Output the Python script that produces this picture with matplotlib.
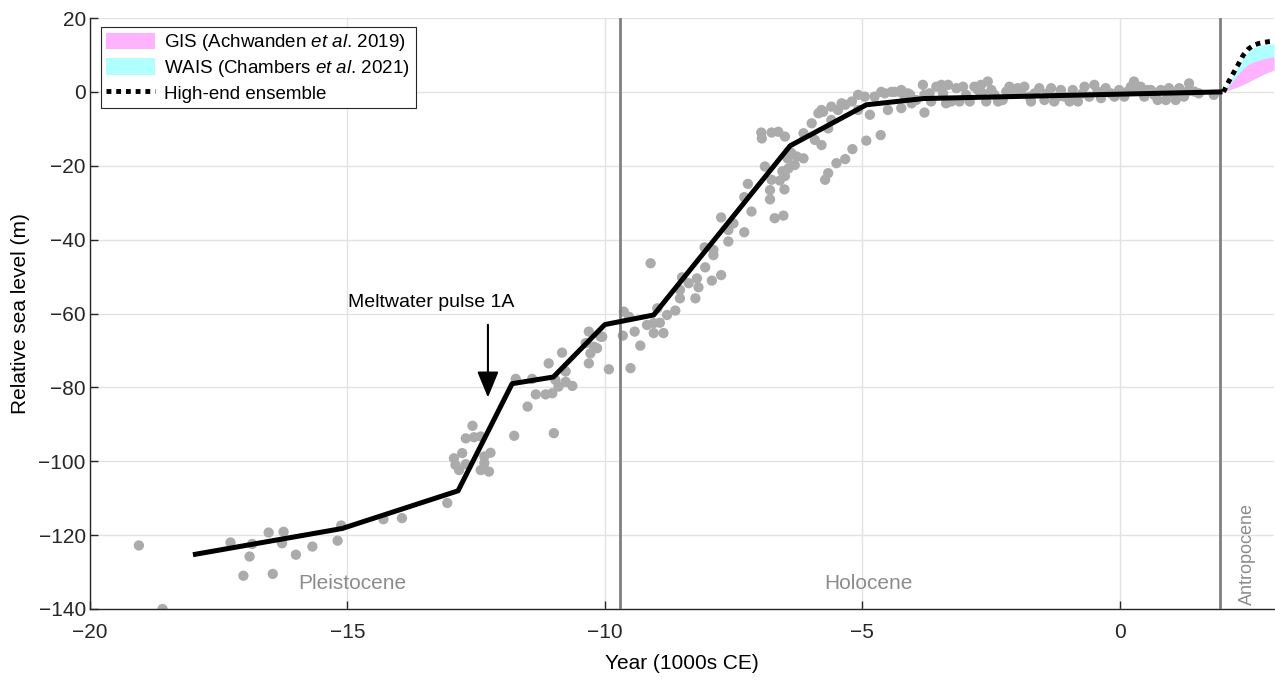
import matplotlib
matplotlib.use("Agg")
import matplotlib.pyplot as plt
from matplotlib.patches import Patch
from matplotlib.lines import Line2D

plt.rcParams['font.family'] = ['Liberation Sans', 'DejaVu Sans']
plt.rcParams['mathtext.fontset'] = 'custom'
plt.rcParams['mathtext.rm'] = 'Liberation Sans'
plt.rcParams['mathtext.it'] = 'Liberation Sans:italic'

# Sea-level index points: age (kyr CE) and relative sea level (m)
pleist_age = [-19.05, -18.59, -17.27, -16.85, -16.90, -17.02, -16.53, -16.24, -16.27,
              -16.00, -16.45, -15.68, -15.19, -15.12, -14.30, -13.94, -13.06]
pleist_rsl = [-122.8, -140.0, -122.0, -122.4, -125.8, -131.0, -119.3, -119.1, -122.2,
              -125.3, -130.5, -123.1, -121.5, -117.4, -115.7, -115.4, -111.3]

mwp_age = [-12.57, -12.70, -12.54, -12.41, -12.93, -12.90, -12.77, -12.83, -12.41,
           -12.25, -12.34, -12.22, -12.34, -12.70,
           -11.73, -11.76, -11.50, -11.34, -11.41, -11.15, -11.02, -10.99, -11.09,
           -10.96, -10.83, -10.76, -10.90, -10.76, -10.63, -10.37, -10.31, -10.21,
           -10.15, -10.31, -10.28, -10.08, -9.92, -10.05]
mwp_rsl = [-90.4, -93.8, -93.5, -93.3, -99.2, -101.0, -97.8, -102.4, -102.4,
           -102.8, -100.5, -97.7, -98.7, -100.8,
           -77.7, -93.1, -85.2, -81.9, -77.7, -81.9, -81.6, -92.4, -73.5,
           -78.0, -70.6, -75.7, -79.8, -78.5, -79.6, -68.0, -64.9, -69.0,
           -69.4, -73.5, -70.8, -66.3, -75.1, -66.3]

early_age = [-9.63, -9.53, -9.65, -9.42, -9.31, -9.50, -9.11, -9.18, -9.05, -8.93,
             -9.05, -8.86, -8.79, -8.63, -8.98, -8.54, -8.24, -8.54, -8.37, -8.50,
             -8.21, -8.18, -8.05, -7.92, -7.74, -8.06, -7.89, -7.89, -7.74, -7.60,
             -7.60, -7.50, -7.29, -7.29, -7.22, -7.15, -6.79, -6.79, -6.76, -6.70,
             -6.53, -6.51, -6.50]
early_rsl = [-59.5, -60.9, -66.0, -64.9, -68.7, -74.8, -46.4, -63.1, -62.6, -62.5,
             -65.3, -65.3, -60.4, -59.2, -58.6, -55.9, -55.9, -53.6, -51.8, -50.2,
             -50.5, -52.9, -47.5, -51.1, -49.6, -42.1, -44.2, -42.8, -34.0, -40.5,
             -37.4, -35.6, -38.0, -28.5, -24.9, -32.4, -29.1, -26.6, -23.8, -34.2,
             -33.5, -26.4, -22.8]

mid_age = [-6.96, -6.95, -6.76, -6.63, -6.50, -6.89, -6.43, -6.31, -6.27, -6.14,
           -6.14, -5.98, -5.92, -5.79, -5.76, -5.66, -5.60, -5.47, -5.33, -5.20,
           -5.08, -4.85, -4.95, -4.76, -4.56, -4.43, -4.27, -4.07, -4.24, -4.50,
           -5.72, -5.66, -5.50, -5.33, -5.19, -4.92, -4.64, -5.60, -5.40, -5.85,
           -5.79, -6.38, -6.45, -6.55, -6.60, -5.08, -4.63, -4.37, -4.11]
mid_rsl = [-11.0, -12.6, -11.0, -10.8, -12.1, -20.2, -20.7, -19.8, -17.5, -18.0,
           -11.2, -8.5, -13.0, -14.4, -5.4, -9.9, -7.6, -4.9, -3.5, -2.6,
           -4.9, -6.2, -1.3, -1.3, -0.4, 0.0, 0.0, -0.8, -4.4, -4.9,
           -23.8, -22.0, -19.3, -18.2, -15.5, -13.2, -11.7, -4.0, -3.1, -5.8,
           -4.9, -16.5, -18.0, -21.5, -24.0, -0.8, 0.0, 0.0, -0.4]

late_age = [-4.24, -4.08, -4.04, -3.82, -3.79, -3.79, -3.66, -3.46, -3.43, -3.33,
            -3.27, -3.17, -3.11, -2.98, -2.82, -2.75, -2.66, -2.59, -2.56, -2.43,
            -2.36, -2.20, -2.07, -1.98, -1.85, -1.75, -1.72, -1.56, -1.46, -1.33,
            -1.20, -1.07, -0.97, -0.91, -0.88, -0.68, -0.59, -0.49, -0.36, -0.27,
            -0.17, -0.01, 0.09, 0.22, 0.28, 0.41, 0.54, 0.67, 0.80, 0.90,
            1.03, 1.16, 1.25, 1.35, 1.45, 1.83,
            -4.17, -3.95, -3.69, -3.56, -3.37, -3.04, -2.91, -2.69, -2.49, -2.27,
            -2.14, -1.91, -1.65, -1.40, -1.27, -1.14, -0.81, -0.72, -0.43, -0.10,
            0.16, 0.35, 0.48, 0.61, 0.74, 0.96, 1.09, 1.19, 1.32, 1.54]
late_rsl = [0.5, -0.8, -3.1, 1.9, -0.8, -5.6, -2.6, 1.9, -0.4, 1.9,
            -2.6, 1.0, -2.6, -0.8, 1.4, 0.5, -0.4, -2.6, 2.8, -0.8,
            -2.6, 0.1, 0.5, 1.0, 1.4, -1.3, -2.6, 1.0, -2.2, 1.0,
            -1.3, -1.3, -2.6, 0.5, -1.7, 1.4, -1.3, 1.9, -1.7, 1.0,
            -0.4, 0.5, -1.3, 1.4, 2.8, 1.4, 0.5, -0.8, 0.5, -2.2,
            -0.4, 1.0, -1.3, 2.3, 0.1, -0.8,
            -1.7, -2.2, -0.4, 1.4, -3.1, 1.4, -2.6, 1.9, 0.5, -2.2,
            1.4, -0.4, -0.4, -0.4, -2.6, 0.5, -2.6, -0.4, 0.1, -1.3,
            0.1, 0.5, -1.3, 0.5, -2.2, 1.0, -2.2, -0.8, 0.1, -0.4]

# Reconstructed global mean sea-level curve
curve_age = [-18.0, -15.1, -12.85, -11.8, -11.0, -10.0, -9.05, -6.4, -4.92, -3.8, 2.0]
curve_rsl = [-125.3, -118.2, -108.0, -79.0, -77.2, -63.0, -60.4, -14.6, -3.5, -1.8, 0.0]

# Future projections
fut_year = [2.02, 2.1, 2.2, 2.3, 2.4, 2.5, 2.6, 2.7, 2.8, 2.9, 3.0]
gis_low = [0.0, 0.4, 0.9, 1.4, 2.0, 2.7, 3.4, 4.1, 4.8, 5.4, 5.9]
gis_high = [0.0, 1.2, 3.0, 4.8, 6.3, 7.4, 8.1, 8.6, 9.0, 9.3, 9.5]
wais_high = [0.0, 2.0, 4.4, 6.8, 9.2, 10.9, 11.9, 12.4, 12.7, 12.9, 13.0]
high_end = [0.0, 2.3, 4.8, 7.3, 9.9, 11.6, 12.6, 13.1, 13.4, 13.6, 13.7]

holocene_start = -9.7
anthropocene_start = 1.95

fig = plt.figure(figsize=(12.75, 6.8), dpi=100)
ax = fig.add_axes([90 / 1275, 71 / 680, 1184 / 1275, 591 / 680])

grey_pts = '#ababab'
for a, r in [(pleist_age, pleist_rsl), (mwp_age, mwp_rsl), (early_age, early_rsl),
             (mid_age, mid_rsl), (late_age, late_rsl)]:
    ax.scatter(a, r, s=55, color=grey_pts, edgecolors='none', zorder=2)

ax.axvline(holocene_start, color='#808080', lw=2, zorder=3)
ax.axvline(anthropocene_start, color='#808080', lw=2, zorder=3)

ax.fill_between(fut_year, gis_low, wais_high, color='#b0ffff', lw=0, zorder=3)
ax.fill_between(fut_year, gis_low, gis_high, color='#ffb3ff', lw=0, zorder=3)
ax.plot(fut_year, high_end, color='k', lw=3.5, ls=(0, (1, 1)), zorder=5)

ax.plot(curve_age, curve_rsl, color='k', lw=3.6, solid_capstyle='butt', zorder=4)

ax.text(-14.9, -133, 'Pleistocene', color='#8c8c8c', fontsize=15, ha='center', va='center')
ax.text(-4.88, -133, 'Holocene', color='#8c8c8c', fontsize=15, ha='center', va='center')
ax.text(2.48, -125, 'Antropocene', color='#8c8c8c', fontsize=13, rotation=90,
        ha='center', va='center')

ax.text(-13.37, -57.0, 'Meltwater pulse 1A', color='k', fontsize=14, ha='center', va='center')
ax.annotate('', xy=(-12.27, -83.5), xytext=(-12.27, -62.3),
            arrowprops=dict(arrowstyle='-|>,head_length=0.8,head_width=0.33',
                            color='k', lw=1.5, mutation_scale=20))

ax.set_xlim(-20, 3)
ax.set_ylim(-140, 20)
ax.set_xticks([-20, -15, -10, -5, 0])
ax.set_yticks(list(range(-140, 21, 20)))
ax.set_xticklabels(['\u221220', '\u221215', '\u221210', '\u22125', '0'])
ax.set_yticklabels(['\u2212140', '\u2212120', '\u2212100', '\u221280', '\u221260',
                    '\u221240', '\u221220', '0', '20'])
ax.tick_params(direction='in', length=6, width=1, labelsize=15, colors='#262626')
ax.tick_params(axis='x', pad=10)
ax.tick_params(axis='y', pad=3)
ax.grid(True, color='#e3e3e3', lw=1)
ax.set_axisbelow(True)
for side in ['top', 'right']:
    ax.spines[side].set_visible(False)
for side in ['left', 'bottom']:
    ax.spines[side].set_color('#262626')
    ax.spines[side].set_linewidth(1)

ax.set_xlabel('Year (1000s CE)', fontsize=15, labelpad=9)
ax.set_ylabel('Relative sea level (m)', fontsize=15, labelpad=6)

handles = [Patch(facecolor='#ffb3ff', edgecolor='none'),
           Patch(facecolor='#b0ffff', edgecolor='none'),
           Line2D([], [], color='k', lw=3.5, ls=(0, (1, 1)))]
labels = ['GIS (Achwanden $\\mathit{et\\ al}$. 2019)',
          'WAIS (Chambers $\\mathit{et\\ al}$. 2021)',
          'High-end ensemble']
leg = ax.legend(handles, labels, loc='upper left', bbox_to_anchor=(0.009, 0.985),
                fontsize=13.5, frameon=True, fancybox=False, framealpha=1,
                edgecolor='#262626', handlelength=2.6, handleheight=1.0,
                borderpad=0.3, labelspacing=0.25, handletextpad=0.5,
                borderaxespad=0)
leg.get_frame().set_linewidth(0.8)

fig.savefig('out.png', dpi=100)
